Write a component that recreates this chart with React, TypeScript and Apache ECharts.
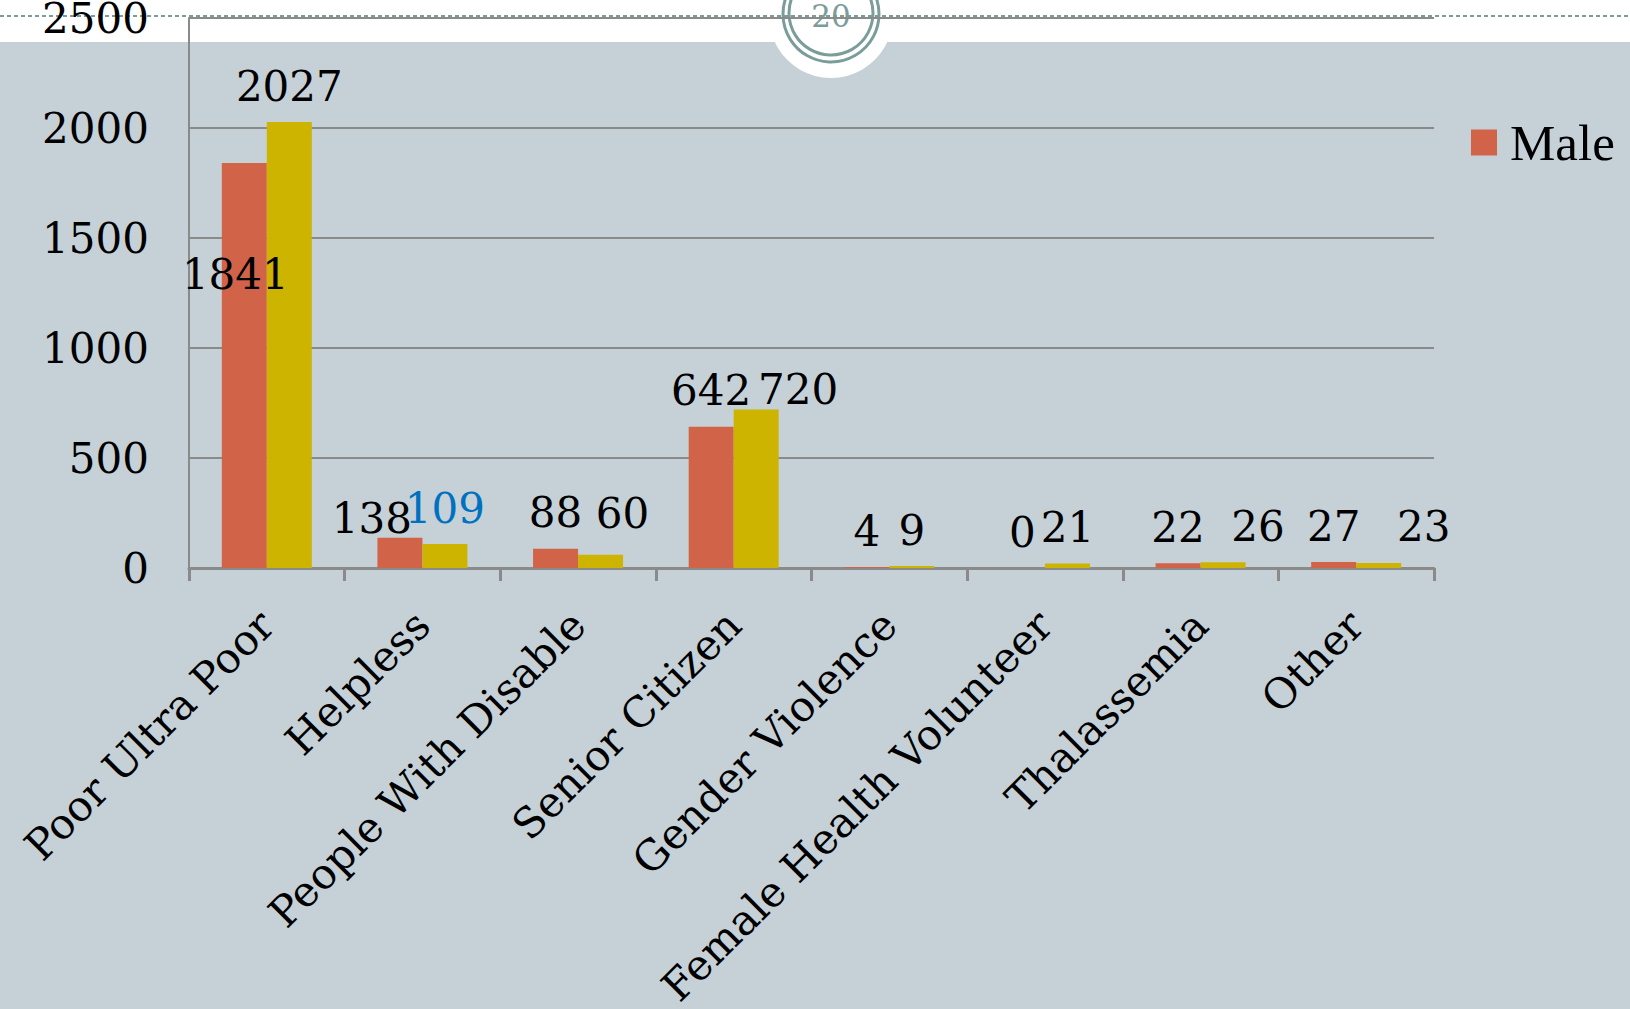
import React, { useEffect, useRef } from "react";
import * as echarts from "echarts";

const categories = [
  "Poor Ultra Poor",
  "Helpless",
  "People With Disable",
  "Senior Citizen",
  "Gender Violence",
  "Female Health Volunteer",
  "Thalassemia",
  "Other",
];
const maleValues = [1841, 138, 88, 642, 4, 0, 22, 27];
const femaleValues = [2027, 109, 60, 720, 9, 21, 26, 23];
const yMin = 0;
const yMax = 2500;
const yInterval = 500;
const badgeText = "20";

const MALE_COLOR = "#D16349";
const FEMALE_COLOR = "#CCB400";
const GRID_COLOR = "#8A8A8A";
const TEAL = "#7B9D9A";
const LABEL_FONT = "'DejaVu Serif', serif";

// label placement tweaks (index -> settings), kept separate from data
const maleLabelTweaks: Record<number, any> = {
  0: { position: "insideTop", offset: [-9, 76] },
  1: { offset: [-28, 17] },
};
const femaleLabelTweaks: Record<number, any> = {
  1: { color: "#0070C0" },
  2: { offset: [22, -5] },
  3: { offset: [42, 16] },
  6: { offset: [35, 0] },
  7: { offset: [45, 0] },
};

function buildData(values: number[], tweaks: Record<number, any>) {
  return values.map((v, i) =>
    tweaks[i] ? { value: v, label: { ...tweaks[i] } } : { value: v }
  );
}

export default function App() {
  const ref = useRef<HTMLDivElement>(null);
  useEffect(() => {
    if (!ref.current) return;
    const chart = echarts.init(ref.current, undefined, { renderer: "svg" });
    const labelBase = {
      show: true,
      position: "top",
      distance: 15,
      color: "#000",
      fontFamily: LABEL_FONT,
      fontSize: 42,
    };
    chart.setOption({
      animation: false,
      backgroundColor: "#C5D1D7",
      grid: {
        left: 189,
        right: 196,
        top: 18,
        bottom: 441,
        containLabel: false,
        outerBoundsMode: "none",
      },
      legend: {
        data: ["Male"],
        left: 1466,
        top: 112,
        icon: "rect",
        itemWidth: 26,
        itemHeight: 26,
        textStyle: {
          fontFamily: "'Liberation Serif', serif",
          fontSize: 51,
          color: "#000",
          padding: [0, 0, 0, 8],
        },
      },
      graphic: [
        { type: "rect", z: -10, shape: { x: 0, y: 0, width: 1630, height: 42 }, style: { fill: "#FFFFFF" } },
        { type: "circle", z: -9, shape: { cx: 831, cy: 16, r: 62 }, style: { fill: "#FFFFFF" } },
        { type: "line", z: -8, shape: { x1: 0, y1: 16, x2: 1630, y2: 16 }, style: { stroke: TEAL, lineWidth: 2, lineDash: [4, 3] } },
        { type: "circle", z: -7, shape: { cx: 831, cy: 14, r: 48 }, style: { fill: "none", stroke: TEAL, lineWidth: 3 } },
        { type: "circle", z: -7, shape: { cx: 831, cy: 13, r: 42 }, style: { fill: "none", stroke: TEAL, lineWidth: 3 } },
        {
          type: "text",
          z: -7,
          x: 831,
          y: 16,
          style: {
            text: badgeText,
            fill: TEAL,
            font: "31px 'DejaVu Serif', serif",
            align: "center",
            verticalAlign: "middle",
          },
        },
      ],
      xAxis: {
        type: "category",
        data: categories,
        axisLine: { lineStyle: { color: GRID_COLOR, width: 3 } },
        axisTick: { show: true, length: 13, lineStyle: { color: GRID_COLOR, width: 3 } },
        axisLabel: {
          rotate: 45,
          interval: 0,
          margin: 50,
          color: "#000",
          fontFamily: LABEL_FONT,
          fontSize: 42,
        },
      },
      yAxis: {
        type: "value",
        min: yMin,
        max: yMax,
        interval: yInterval,
        axisLine: { show: true, lineStyle: { color: GRID_COLOR, width: 2 } },
        axisTick: { show: false },
        splitLine: { lineStyle: { color: GRID_COLOR, width: 2 } },
        axisLabel: {
          margin: 40,
          color: "#000",
          fontFamily: LABEL_FONT,
          fontSize: 42,
          formatter: (v: number) => String(v),
        },
      },
      series: [
        {
          name: "Male",
          type: "bar",
          barWidth: 45,
          barGap: "0%",
          itemStyle: { color: MALE_COLOR },
          label: labelBase,
          data: buildData(maleValues, maleLabelTweaks),
        },
        {
          name: "Female",
          type: "bar",
          barWidth: 45,
          barGap: "0%",
          itemStyle: { color: FEMALE_COLOR },
          label: labelBase,
          data: buildData(femaleValues, femaleLabelTweaks),
        },
      ],
    });
    return () => chart.dispose();
  }, []);
  return (
    <div
      ref={ref}
      style={{ position: "absolute", left: 0, top: 0, width: 1630, height: 1009 }}
    />
  );
}
